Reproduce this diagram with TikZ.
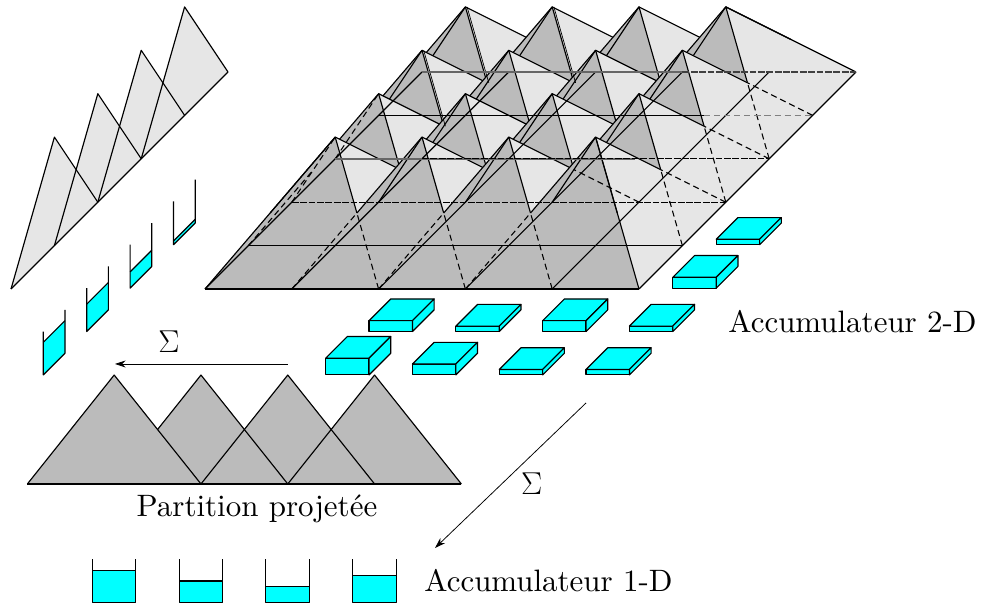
\documentclass[tikz,border=0pt]{standalone}
\usepackage{amsmath,amssymb}
\usepackage{xcolor}
\usepackage{tikz}
\usetikzlibrary{arrows.meta,positioning}
\definecolor{pyrdark}{HTML}{BBBBBB}
\definecolor{pyrlight}{HTML}{E6E6E6}
\definecolor{accfill}{HTML}{00FFFF}
\font\lblfont="[lmroman10-regular.otf]" at 20.3pt
\tikzset{
  edge/.style={line width=.75pt, line join=round},
  hid/.style={line width=.7pt, dash pattern=on 4pt off 2.6pt},
  greyl/.style={line width=1.1pt, draw=black!60},
  acc/.style={edge, fill=accfill},
  sumarrow/.style={line width=.5pt, -{Stealth[length=7pt,width=4.6pt]}},
  lbl/.style={font=\lblfont, inner sep=0pt, anchor=base},
  sumlbl/.style={font=\fontsize{20.3}{24}\selectfont, inner sep=0pt},
}
\begin{document}
\begin{tikzpicture}[x={(2cm,0cm)}, y={(1cm,1cm)}, z={(0cm,1cm)}]
  \useasboundingbox (-4.724cm,-7.327cm) rectangle (18.065cm,6.659cm);
  % base of the 2-D partition
  \fill[pyrlight] (0,0,0) -- (5,0,0) -- (5,5,0) -- (0,5,0) -- cycle;
  % pyramids, back row first
  \foreach \j in {3,2,1,0}\foreach \i in {0,...,3}{
    \coordinate (ap) at (\i+1,\j+1,2.5);
    \fill[pyrlight] (ap) -- (\i+2,\j,0) -- (\i+2,\j+2,0) -- cycle;
    \fill[pyrdark] (ap) -- (\i,\j,0) -- (\i+2,\j,0) -- cycle;
    \ifnum\i\j>1 \draw[edge] (ap) -- (\i,\j+2,0); \fi
    \draw[edge] (\i+.5,\j+.5,1.25) -- (ap) -- (\i+1.5,\j+.5,1.25);
    \draw[edge] (ap) -- (\i+1.5,\j+1.5,1.25);
  }
  % hidden halves that show
  \foreach \i/\j in {0/0,1/0,2/0,3/1,3/2,3/3}
    \draw[hid] (\i+2,\j,0) -- (\i+1.5,\j+.5,1.25);
  \foreach \i/\j in {2/0,3/0,3/1,3/2}
    \draw[hid] (\i+2,\j+2,0) -- (\i+1.5,\j+1.5,1.25);
  \foreach \i/\j in {1/0,2/0,3/0,0/1}
    \draw[hid] (\i,\j,0) -- (\i+.5,\j+.5,1.25);
  \foreach \i/\j in {0/0,0/1}
    \draw[hid] (\i,\j+2,0) -- (\i+1,\j+1,2.5);
  % corners of the partition stay visible
  \draw[edge] (0,0,0) -- (1,1,2.5);
  \draw[edge] (5,0,0) -- (4,1,2.5);
  \draw[edge] (5,5,0) -- (4,4,2.5);
  \foreach \i/\j in {0/2,0/3,1/3}
    \draw[line width=.45pt] ([xshift=1.1pt]\i+1,\j+1,2.5) -- ([xshift=1.1pt]\i+1.5,\j+.5,1.25);
  % grid on the base
  \foreach \i in {0,...,5}\draw[edge] (\i,0,0) -- (\i,5,0);
  \draw[edge] (0,0,0) -- (5,0,0);
  \draw[edge] (0,1,0) -- (5,1,0);
  \draw[hid, dash pattern=on 4.5pt off 1pt] (0,2,0) -- (5,2,0);
  \draw[greyl] (0,3,0) -- (3.45,3,0);
  \draw[hid, dash pattern=on 4.5pt off 1pt] (1,3,0) -- (5,3,0);
  \draw[edge] (0,4,0) -- (3.75,4,0);
  \draw[hid, draw=black!50] (3.75,4,0) -- (5,4,0);
  \draw[greyl] (0,5,0) -- (3,5,0);
  \draw[hid, draw=black!75, dash pattern=on 4.5pt off 1pt] (3,5,0) -- (5,5,0);
  % projection on the side
  \foreach \j in {0,...,3}{
    \fill[pyrlight] (-2.235,\j,0) -- (-2.235,\j+1,2.5) -- (-2.235,\j+2,0) -- cycle;
  }
  \foreach \j in {0,...,3}{
    \draw[edge] (-2.235,\j,0) -- (-2.235,\j+1,2.5) -- (-2.235,\j+2,0);
  }
  \draw[edge] (-2.235,0,0) -- (-2.235,5,0);
  % side accumulators
  \foreach \j/\h in {0/.75,1/.63,2/.375,3/.085}{
    \fill[accfill] (-.873,\j-1.98,0) -- (-.873,\j-1.48,0) -- (-.873,\j-1.48,\h) -- (-.873,\j-1.98,\h) -- cycle;
    \draw[edge] (-.873,\j-1.98,\h) -- (-.873,\j-1.48,\h);
    \draw[edge] (-.873,\j-1.98,1) -- (-.873,\j-1.98,0) -- (-.873,\j-1.48,0) -- (-.873,\j-1.48,1);
  }
  % 2-D accumulators
  \foreach \i/\j/\h in {3/3/.125,3/2/.25,0/1/.25,1/1/.125,2/1/.25,3/1/.125,0/0/.385,1/0/.25,2/0/.125,3/0/.125}{
    \draw[acc] (\i+2.38,\j-1.98,0) -- ++(.5,0,0) -- ++(0,0,\h) -- ++(-.5,0,0) -- cycle;
    \draw[acc] (\i+2.38,\j-1.98,\h) -- ++(.5,0,0) -- ++(0,.5,0) -- ++(-.5,0,0) -- cycle;
    \draw[acc] (\i+2.88,\j-1.98,0) -- ++(0,.5,0) -- ++(0,0,\h) -- ++(0,-.5,0) -- cycle;
  }
  % projected partition
  \foreach \i in {3,2,1,0}
    \fill[pyrdark] (\i+.2,-4.493,0) -- (\i+1.2,-4.493,2.51) -- (\i+2.2,-4.493,0) -- cycle;
  \draw[edge] (.2,-4.493,0) -- (5.2,-4.493,0);
  \draw[edge] (.2,-4.493,0) -- (1.2,-4.493,2.51) -- (2.2,-4.493,0);
  \draw[edge] (1.7,-4.493,1.255) -- (2.2,-4.493,2.51) -- (3.2,-4.493,0);
  \draw[edge] (2.2,-4.493,0) -- (3.2,-4.493,2.51) -- (4.2,-4.493,0);
  \draw[edge] (3.2,-4.493,0) -- (4.2,-4.493,2.51) -- (5.2,-4.493,0);
  % bottom accumulators
  \foreach \i/\h in {0/.75,1/.5,2/.375,3/.625}{
    \fill[accfill] (\i+2.3155,-7.228,0) -- ++(.5,0,0) -- ++(0,0,\h) -- ++(-.5,0,0) -- cycle;
    \draw[edge] (\i+2.3155,-7.228,\h) -- ++(.5,0,0);
    \draw[edge] (\i+2.3155,-7.228,1) -- (\i+2.3155,-7.228,0) -- (\i+2.8155,-7.228,0) -- (\i+2.8155,-7.228,1);
  }
  % sums and labels
  \coordinate (sumlstart) at (1.912cm,-1.728cm);
  \coordinate (sumlend) at (-2.074cm,-1.728cm);
  \coordinate (sumdstart) at (8.779cm,-2.627cm);
  \coordinate (sumdend) at (5.3cm,-5.968cm);
  \draw[sumarrow] (sumlstart) -- (sumlend);
  \draw[sumarrow] (sumdstart) -- (sumdend);
  \node[sumlbl] (suml) at (-.83cm,-1.22cm) {$\Sigma$};
  \node[sumlbl] (sumd) at (7.53cm,-4.49cm) {$\Sigma$};
  \node[lbl] (acctwo) at (14.92cm,-1.014cm) {Accumulateur 2-D};
  \node[lbl] (partproj) at (1.198cm,-5.234cm) {Partition projetée};
  \node[lbl] (accone) at (7.915cm,-6.975cm) {Accumulateur 1-D};
\end{tikzpicture}
\end{document}
